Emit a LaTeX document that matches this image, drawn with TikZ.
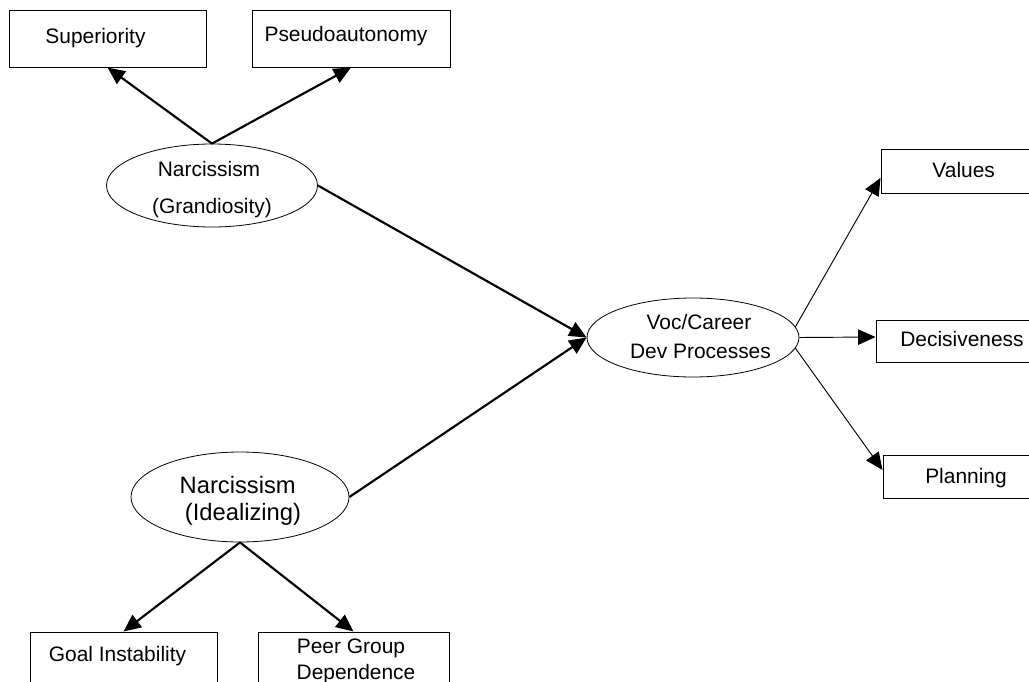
\documentclass[tikz,border=0pt]{standalone}
\usepackage{fontspec}
\setmainfont{Liberation Sans}
\usetikzlibrary{arrows.meta,shapes.geometric,fit}
\begin{document}
\begin{tikzpicture}[x=0.75pt,y=-0.75pt,
  box/.style={draw=black,line width=0.75pt,rectangle,inner sep=0pt},
  oval/.style={draw=black,line width=0.6pt,ellipse,inner sep=0pt},
  txt/.style={inner sep=0pt,anchor=base,font=\fontsize{15.7pt}{19pt}\selectfont},
  bigtxt/.style={txt,font=\fontsize{17.8pt}{21pt}\selectfont},
  thickarr/.style={line width=1.6pt,-{Triangle[length=13pt,width=11.5pt]}},
  thinarr/.style={line width=0.7pt,-{Triangle[length=13pt,width=11.5pt]}}]
\useasboundingbox[fill=white] (0,0) rectangle (1029,682);

% boxes
\node[box,fit={(9,10) (206,67)}] (sup) {};
\node[box,fit={(252,10) (450,67)}] (pse) {};
\node[box,fit={(881,149) (1045,193)}] (val) {};
\node[box,fit={(876,320) (1048,362)}] (dec) {};
\node[box,fit={(883,455) (1047,498)}] (pla) {};
\node[box,fit={(30,632) (217,705)}] (goal) {};
\node[box,fit={(258,632) (449,705)}] (peer) {};

% ellipses
\node[oval,minimum width=158.25pt,minimum height=62.25pt] (gran) at (212,185.5) {};
\node[oval,minimum width=159pt,minimum height=59.25pt] (voc) at (693,337.5) {};
\node[oval,minimum width=163.5pt,minimum height=67.5pt] (ideal) at (240,497) {};

% texts
\node[txt] (supT) at (95.5,43) {Superiority};
\node[txt] (pseT) at (346,41) {Pseudoautonomy};
\node[txt] (granT1) at (209,176.7) {Narcissism};
\node[txt] (granT2) at (212,213) {(Grandiosity)};
\node[txt] (vocT1) at (699,329) {Voc/Career};
\node[txt] (vocT2) at (700.5,358) {Dev Processes};
\node[txt] (valT) at (963.7,177) {Values};
\node[txt] (decT) at (962,346) {Decisiveness};
\node[txt] (plaT) at (966,483) {Planning};
\node[bigtxt] (idealT1) at (237.7,493) {Narcissism};
\node[bigtxt] (idealT2) at (243,520) {(Idealizing)};
\node[txt] (goalT) at (117.5,661.7) {Goal Instability};
\node[txt] (peerT1) at (351,653) {Peer Group};
\node[txt] (peerT2) at (356,679) {Dependence};

% connectors
\draw[thickarr] (gran.north) -- (sup.south);
\draw[thickarr] (gran.north) -- (pse.south);
\draw[thickarr] (gran.east) -- (voc.west);
\draw[thickarr] (ideal.east) -- (voc.west);
\draw[thickarr] (ideal.south) -- (goal.north);
\draw[thickarr] (ideal.south) -- (peer.north);
\draw[thinarr] (voc.6) -- ([yshift=-5.25pt]val.west);
\draw[thinarr] (voc.east) -- ([yshift=3pt]dec.west);
\draw[thinarr] (voc.-6) -- ([yshift=4.9pt]pla.west);
\end{tikzpicture}
\end{document}
